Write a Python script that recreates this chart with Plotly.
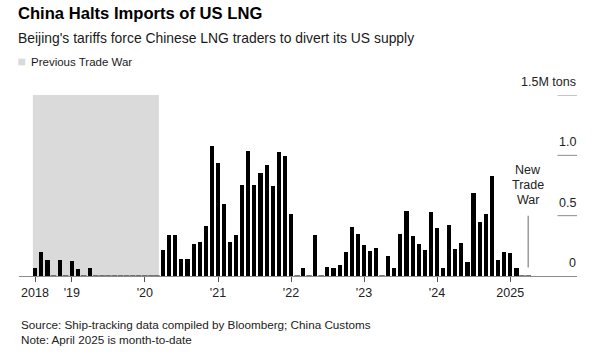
import pandas as pd
import plotly.graph_objects as go

# ---------------- data ----------------
start_month = "2018-07-01"
imports_mt = [
    # 2018 Jul-Dec
    0.064, 0.195, 0.134, 0.0, 0.130, 0.0,
    # 2019
    0.125, 0.062, 0.0, 0.065, 0.0, 0.0, 0.0, 0.0, 0.0, 0.0, 0.0, 0.0,
    # 2020
    0.0, 0.0, 0.0, 0.218, 0.340, 0.340, 0.141, 0.141, 0.262, 0.282, 0.417, 1.078,
    # 2021
    0.937, 0.597, 0.284, 0.337, 0.757, 1.040, 0.755, 0.851, 0.923, 0.742, 1.030, 0.995,
    # 2022
    0.514, 0.0, 0.066, 0.0, 0.342, 0.0, 0.071, 0.066, 0.088, 0.200, 0.403, 0.348,
    # 2023
    0.257, 0.210, 0.235, 0.0, 0.166, 0.066, 0.351, 0.539, 0.334, 0.262, 0.215, 0.533,
    # 2024
    0.398, 0.066, 0.423, 0.224, 0.270, 0.119, 0.690, 0.450, 0.517, 0.829, 0.130, 0.200,
    # 2025 Jan-Apr
    0.193, 0.066, 0.0, 0.0,
]
months = pd.date_range(start_month, periods=len(imports_mt), freq="MS")

tick_vals = ["2018-07-01", "2019-01-01", "2020-01-01", "2021-01-01",
             "2022-01-01", "2023-01-01", "2024-01-01", "2025-01-01"]
tick_text = ["2018", "'19", "'20", "'21", "'22", "'23", "'24", "2025"]

y_ticks = [0, 0.5, 1.0, 1.5]
y_tick_text = ["0", "0.5", "1.0", "1.5M tons"]

prev_war_first = "2018-07-01"
prev_war_last = "2020-03-01"
new_war_month = "2025-04-01"
new_war_lines = ["New", "Trade", "War"]

title = "China Halts Imports of US LNG"
subtitle = "Beijing's tariffs force Chinese LNG traders to divert its US supply"
legend_label = "Previous Trade War"
source = "Source: Ship-tracking data compiled by Bloomberg; China Customs"
note = "Note: April 2025 is month-to-date"

# ---------------- layout helpers ----------------
W, H = 608, 356
ML, MR, MT, MB = 19, 31, 95, 80
PW, PH = W - ML - MR, H - MT - MB
FONT = "Liberation Sans, Arial, sans-serif"
DAY = 86400000
bar_w = 21 * DAY
half = pd.Timedelta(days=10.5)


def xp(px):
    return (px - ML) / PW


def yp(py):
    return (H - MB - py) / PH


zero_x = [m for m, v in zip(months, imports_mt) if v == 0]
zero_y = [0 for v in imports_mt if v == 0]

fig = go.Figure()
fig.add_trace(go.Bar(
    x=months, y=imports_mt, width=bar_w,
    marker=dict(color="#000000", line=dict(width=0)),
    hoverinfo="x+y", showlegend=False,
))
fig.add_trace(go.Scatter(
    x=zero_x, y=zero_y, mode="markers",
    marker=dict(symbol="line-ew", size=4, line=dict(width=1.6, color="#555555")),
    hoverinfo="skip", showlegend=False, cliponaxis=False,
))

shapes = []
# previous trade war shading
shapes.append(dict(
    type="rect", xref="x", yref="y", layer="below",
    x0=pd.Timestamp(prev_war_first) - half, x1=pd.Timestamp(prev_war_last) + half,
    y0=0, y1=max(y_ticks), fillcolor="#dadada", line=dict(width=0),
))
# short right-hand gridlines
for v in y_ticks[1:]:
    shapes.append(dict(type="line", xref="paper", yref="y",
                       x0=xp(557.5), x1=1.0, y0=v, y1=v,
                       line=dict(color="#8c8c8c", width=1)))
# new trade war marker line
shapes.append(dict(type="line", xref="x", yref="y",
                   x0=new_war_month, x1=new_war_month, y0=0.07, y1=0.5,
                   line=dict(color="#8c8c8c", width=1.3)))
# legend swatch
shapes.append(dict(type="rect", xref="paper", yref="paper",
                   x0=xp(18.3), x1=xp(25.3), y0=yp(65.3), y1=yp(58.7),
                   fillcolor="#dadada", line=dict(width=0)))

annotations = []
annotations.append(dict(text=f"<b>{title}</b>", xref="paper", yref="paper",
                        x=xp(15.5), y=yp(13.5), xanchor="left", yanchor="middle",
                        showarrow=False, font=dict(family=FONT, size=16.6, color="#000000")))
annotations.append(dict(text=subtitle, xref="paper", yref="paper",
                        x=xp(15.5), y=yp(37.5), xanchor="left", yanchor="middle",
                        showarrow=False, font=dict(family=FONT, size=13.9, color="#1a1a1a")))
annotations.append(dict(text=legend_label, xref="paper", yref="paper",
                        x=xp(28.5), y=yp(62), xanchor="left", yanchor="middle",
                        showarrow=False, font=dict(family=FONT, size=11.5, color="#1a1a1a")))
annotations.append(dict(text=source + "<br>" + note, xref="paper", yref="paper",
                        x=xp(18.5), y=yp(331.5), xanchor="left", yanchor="middle",
                        align="left", showarrow=False,
                        font=dict(family=FONT, size=11.7, color="#222222")))
for v, t in zip(y_ticks, y_tick_text):
    annotations.append(dict(text=t, xref="paper", yref="y", x=1.0, y=v,
                            xanchor="right", yanchor="bottom", yshift=4, xshift=1,
                            showarrow=False, font=dict(family=FONT, size=12.5, color="#222222")))
line_gap = 14.8
for i, t in enumerate(reversed(new_war_lines)):
    annotations.append(dict(text=t, xref="x", yref="y",
                            x=new_war_month, y=0.5, yanchor="middle", xanchor="center",
                            yshift=16 + i * line_gap, showarrow=False,
                            font=dict(family=FONT, size=12.5, color="#222222")))

fig.update_layout(
    width=W, height=H,
    margin=dict(l=ML, r=MR, t=MT, b=MB, pad=0),
    paper_bgcolor="#ffffff", plot_bgcolor="#ffffff",
    bargap=0, showlegend=False,
    shapes=shapes, annotations=annotations,
    xaxis=dict(type="date", range=["2018-04-12", "2025-12-01"],
               tickmode="array", tickvals=tick_vals, ticktext=tick_text,
               ticks="outside", ticklen=5, tickwidth=1, tickcolor="#555555",
               showline=True, linecolor="#8c8c8c", linewidth=1,
               showgrid=False, zeroline=False,
               tickfont=dict(family=FONT, size=12.5, color="#222222"),
               fixedrange=True),
    yaxis=dict(range=[0, 1.5], showgrid=False, zeroline=False,
               showticklabels=False, ticks="", fixedrange=True),
    font=dict(family=FONT),
)

fig.write_html(
    "out.html",
    config={"displayModeBar": False},
    post_script="document.body.style.margin='0';document.body.style.overflow='hidden';",
)
